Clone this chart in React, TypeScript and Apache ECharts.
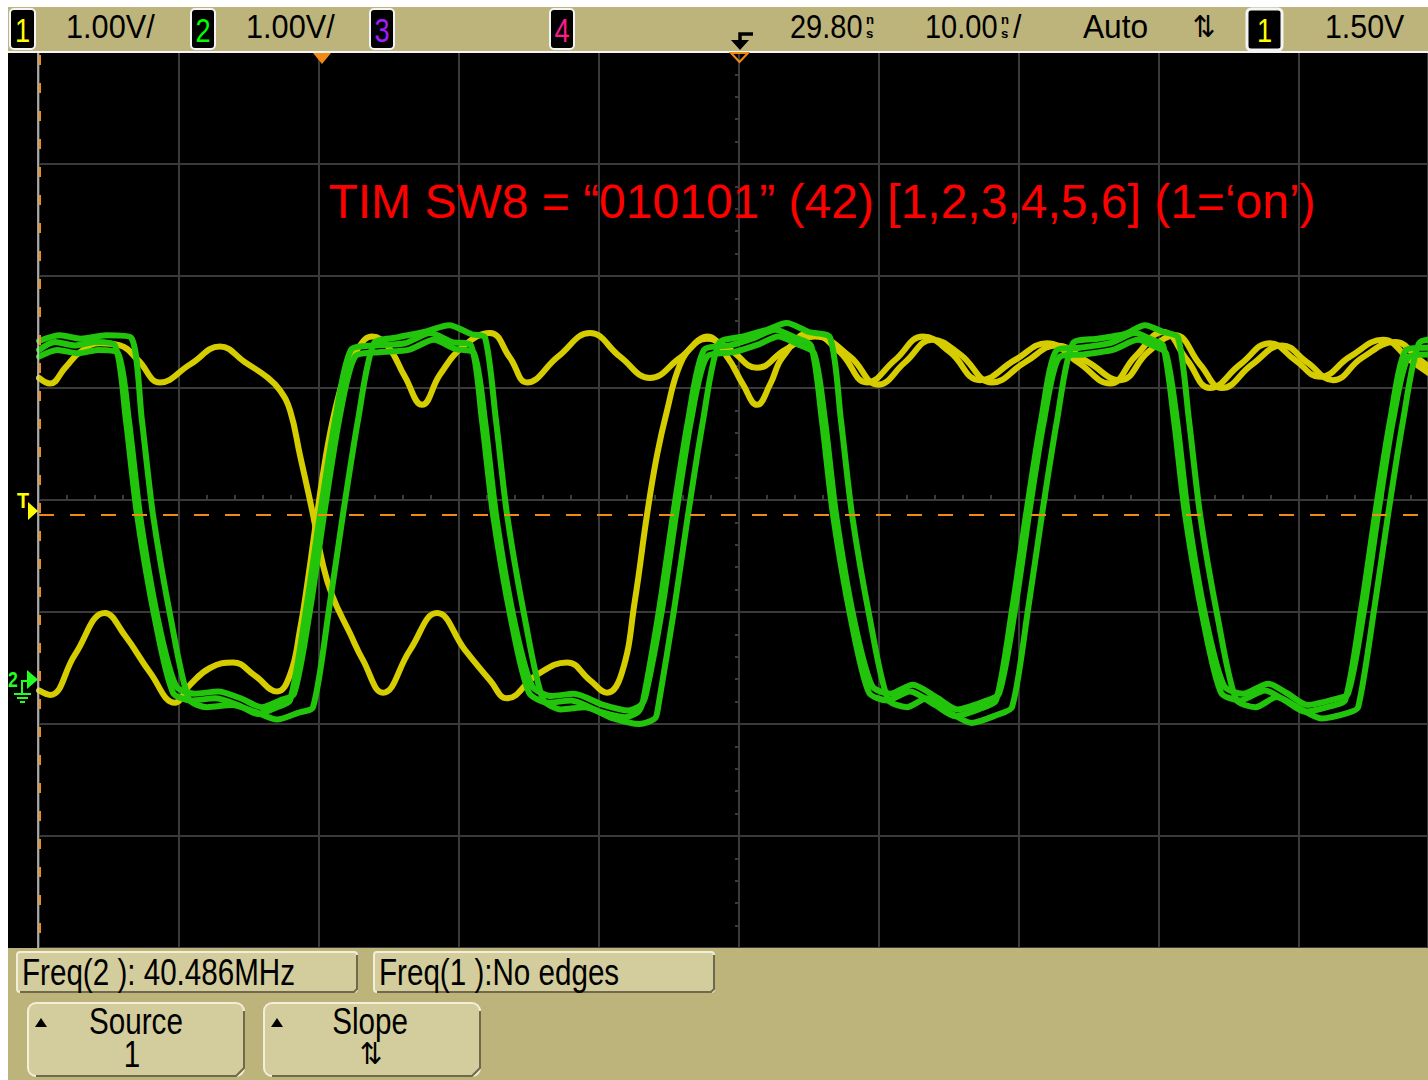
import { useEffect, useRef } from "react";
import * as echarts from "echarts";

// ---- screen axes (time in ns from the left edge of the screen, level in divisions; 1.00 V/div) ----
// 10 ns/div, 140 px/div; the visible part of the screen ends at 99.21 ns
const timeAxis = { min: 0, max: 99.21, step: 10 };
const levelAxis = { min: -4, max: 4, step: 1 };
const triggerLevelDiv = -0.134;

// ---- channel 1 (yellow) : two persistence traces ----
const ch1TraceA: [number, number][] = [
  [0, 1.09], [0.79, 1.04], [1.86, 1.18], [2.93, 1.32], [4.36, 1.4], [5.79, 1.38], [7.07, 1.25], [8.64, 1.05],
  [10.79, 1.21], [12.93, 1.37], [14.71, 1.23], [16.36, 1.09], [17.21, 0.98], [17.93, 0.8], [18.64, 0.4],
  [19.57, -0.13], [20.21, -0.54], [20.93, -0.85], [22.21, -1.19], [23.14, -1.43], [24.57, -1.72], [26.5, -1.34],
  [28.43, -1.01], [30.43, -1.34], [32.21, -1.61], [33.43, -1.77], [35.57, -1.56], [37.71, -1.45], [39.36, -1.61],
  [40.57, -1.72], [41.64, -1.54], [42.57, -0.89], [43.43, -0.13], [44.14, 0.4], [44.86, 0.8], [45.79, 1.21],
  [46.86, 1.4], [47.71, 1.46], [49.14, 1.28], [50.29, 1.03], [51.29, 0.85], [52.21, 1.03], [53.14, 1.28],
  [55.07, 1.49], [57.21, 1.32], [59.14, 1.05], [61.14, 1.25], [63.14, 1.46], [65.07, 1.32], [67.21, 1.07],
  [69.71, 1.25], [72.0, 1.4], [74.21, 1.23], [76.5, 1.04], [78.29, 1.28], [80.29, 1.5], [82.0, 1.25],
  [83.64, 1.0], [85.79, 1.21], [87.93, 1.4], [89.71, 1.25], [91.5, 1.1], [93.64, 1.28], [96.0, 1.43],
  [97.93, 1.25], [100, 1.07],
];
const ch1TraceB: [number, number][] = [
  [0, -1.7], [0.79, -1.74], [2.57, -1.38], [4.71, -1.01], [6.14, -1.21], [7.93, -1.54], [9.71, -1.81],
  [10.79, -1.65], [12.21, -1.5], [13.86, -1.45], [15.43, -1.57], [17.0, -1.71], [17.93, -1.56], [18.64, -1.16],
  [19.21, -0.71], [19.86, -0.13], [20.5, 0.4], [21.14, 0.8], [21.86, 1.12], [22.71, 1.34], [23.79, 1.46],
  [24.93, 1.37], [26.14, 1.1], [27.36, 0.85], [28.64, 1.12], [30.29, 1.37], [32.21, 1.49], [33.64, 1.27],
  [34.86, 1.05], [37.07, 1.28], [39.36, 1.49], [41.5, 1.28], [43.64, 1.09], [45.79, 1.27], [47.71, 1.44],
  [49.36, 1.34], [51.29, 1.18], [53.29, 1.34], [55.43, 1.46], [57.93, 1.28], [59.93, 1.03], [61.86, 1.23],
  [63.79, 1.43], [65.79, 1.3], [68.07, 1.05], [70.43, 1.23], [72.71, 1.38], [74.93, 1.23], [77.21, 1.07],
  [79.21, 1.32], [81.14, 1.47], [82.93, 1.21], [84.5, 1.0], [86.64, 1.21], [88.79, 1.38], [90.57, 1.23],
  [92.43, 1.07], [94.5, 1.27], [96.86, 1.41], [98.64, 1.25], [100, 1.12],
];

// ---- channel 2 (green) : three persistence traces ----
const ch2TraceA: [number, number][] = [
  [0, 1.34], [1.14, 1.41], [2.57, 1.38], [4.0, 1.41],
  [5.43, 1.38], [6.21, 0.71], [7.0, -0.13], [8.29, -1.07], [9.57, -1.72],
  [10.9, -1.79], [12.57, -1.77], [14.21, -1.83], [15.64, -1.91], [17.0, -1.85],
  [17.93, -1.79], [19.07, -0.98], [20.07, -0.13], [21.14, 0.71], [22.28, 1.34],
  [24.0, 1.38], [26.14, 1.4], [27.93, 1.49], [29.5, 1.41],
  [30.86, 1.38], [31.64, 0.71], [32.43, -0.13], [33.72, -1.07], [35.0, -1.72],
  [36.4, -1.81], [38.0, -1.79], [40.07, -1.89], [41.86, -1.94], [42.8, -1.89],
  [43.15, -1.79], [44.29, -0.98], [45.29, -0.13], [46.36, 0.71], [47.5, 1.34],
  [49.36, 1.38], [51.14, 1.45], [52.57, 1.52], [54.0, 1.45],
  [55.14, 1.38], [55.92, 0.71], [56.71, -0.13], [58.0, -1.07], [59.28, -1.72],
  [60.6, -1.79], [62.21, -1.71], [64.0, -1.83], [65.43, -1.93], [67.3, -1.86],
  [68.36, -1.79], [69.5, -0.98], [70.5, -0.13], [71.57, 0.71], [72.71, 1.34],
  [74.36, 1.36], [76.5, 1.4], [78.29, 1.49], [79.5, 1.43],
  [80.29, 1.38], [81.07, 0.71], [81.86, -0.13], [83.15, -1.07], [84.43, -1.72],
  [85.79, -1.79], [87.57, -1.7], [89.0, -1.79], [90.43, -1.89], [92.3, -1.84],
  [93.29, -1.79], [94.43, -0.98], [95.43, -0.13], [96.5, 0.71], [97.64, 1.34],
  [99.0, 1.36], [100, 1.36],
];
const ch2TraceB: [number, number][] = [
  [0, 1.28], [1.3, 1.34], [2.8, 1.31], [4.2, 1.34],
  [5.64, 1.31], [6.42, 0.71], [7.21, -0.13], [8.5, -1.07], [9.78, -1.66],
  [11.1, -1.73], [12.8, -1.71], [14.4, -1.77], [15.9, -1.85], [17.2, -1.79],
  [18.22, -1.73], [19.36, -0.98], [20.36, -0.13], [21.43, 0.71], [22.57, 1.28],
  [24.3, 1.32], [26.4, 1.34], [28.2, 1.43], [29.7, 1.35],
  [31.07, 1.31], [31.85, 0.71], [32.64, -0.13], [33.93, -1.07], [35.21, -1.66],
  [36.6, -1.75], [38.2, -1.73], [40.3, -1.83], [42.1, -1.88], [43.0, -1.83],
  [43.36, -1.73], [44.5, -0.98], [45.5, -0.13], [46.57, 0.71], [47.71, 1.28],
  [49.6, 1.32], [51.4, 1.39], [52.8, 1.46], [54.2, 1.39],
  [55.36, 1.31], [56.14, 0.71], [56.93, -0.13], [58.22, -1.07], [59.5, -1.66],
  [60.8, -1.73], [62.4, -1.65], [64.2, -1.77], [65.6, -1.87], [67.5, -1.8],
  [68.57, -1.73], [69.71, -0.98], [70.71, -0.13], [71.78, 0.71], [72.92, 1.28],
  [74.6, 1.3], [76.7, 1.34], [78.5, 1.43], [79.7, 1.37],
  [80.5, 1.31], [81.28, 0.71], [82.07, -0.13], [83.36, -1.07], [84.64, -1.66],
  [86.0, -1.73], [87.8, -1.64], [89.2, -1.73], [90.6, -1.83], [92.5, -1.78],
  [93.5, -1.73], [94.64, -0.98], [95.64, -0.13], [96.71, 0.71], [97.85, 1.28],
  [99.2, 1.3], [100, 1.3],
];
const ch2TraceC: [number, number][] = [
  [0, 1.42], [1.5, 1.47], [3.0, 1.44], [4.8, 1.47],
  [6.57, 1.45], [7.35, 0.71], [8.14, -0.13], [9.43, -1.07], [10.71, -1.78],
  [12.0, -1.85], [13.8, -1.83], [15.4, -1.89], [17.0, -1.96], [18.5, -1.9],
  [19.57, -1.85], [20.71, -0.98], [21.71, -0.13], [22.78, 0.71], [23.92, 1.4],
  [25.5, 1.45], [27.5, 1.5], [29.3, 1.56], [30.9, 1.48],
  [31.86, 1.45], [32.64, 0.71], [33.43, -0.13], [34.72, -1.07], [36.0, -1.78],
  [37.3, -1.87], [39.0, -1.85], [41.0, -1.95], [42.9, -2.0], [44.0, -1.95],
  [44.22, -1.85], [45.36, -0.98], [46.36, -0.13], [47.43, 0.71], [48.57, 1.4],
  [50.3, 1.46], [52.0, 1.52], [53.4, 1.58], [55.0, 1.5],
  [56.5, 1.45], [57.28, 0.71], [58.07, -0.13], [59.36, -1.07], [60.64, -1.78],
  [62.0, -1.85], [63.4, -1.77], [65.1, -1.9], [66.6, -1.99], [68.4, -1.92],
  [69.5, -1.85], [70.64, -0.98], [71.64, -0.13], [72.71, 0.71], [73.85, 1.4],
  [75.6, 1.44], [77.5, 1.48], [79.0, 1.56], [80.3, 1.5],
  [81.36, 1.45], [82.14, 0.71], [82.93, -0.13], [84.22, -1.07], [85.5, -1.78],
  [86.9, -1.85], [88.4, -1.76], [89.9, -1.85], [91.6, -1.95], [93.5, -1.9],
  [94.22, -1.85], [95.36, -0.98], [96.36, -0.13], [97.43, 0.71], [98.57, 1.4],
  [100, 1.44],
];

// ---- texts ----
const titleText = "TIM SW8 = \u201C010101\u201D (42) [1,2,3,4,5,6] (1=\u2018on\u2019)";
const channelScales = ["1.00V/", "1.00V/"];
const delayText = "29.80";
const timebaseText = "10.00";
const timeUnitTop = "n";
const timeUnitBottom = "s";
const triggerModeText = "Auto";
const triggerLevelText = "1.50V";
const measurementTexts = ["Freq(2 ): 40.486MHz", "Freq(1 ):No edges"];
const softkeyTitles = ["Source", "Slope"];
const softkeyValues = ["1", "\u21C5"];

// ---- colours ----
const KHAKI = "#bdb47b";
const BOX_FILL = "#d3cc9c";
const GRID = "#3a3a3a";
const YELLOW = "#d6cd00";
const GREEN = "#22c40c";
const ORANGE = "#f08a16";

const UI_FONT = '"Liberation Sans", Arial, sans-serif';

function uiText(x: number, y: number, text: string, size: number, color: string, align = "left", sx = 0.8, family = UI_FONT, weight = "normal", sy = 1) {
  return {
    type: "text",
    x,
    y,
    scaleX: sx,
    scaleY: sy,
    z: 30,
    style: {
      text,
      fill: color,
      font: `${weight} ${size}px ${family}`,
      textAlign: align,
      textVerticalAlign: "middle",
      align,
      verticalAlign: "middle",
    },
  };
}

function chanBox(x: number, y: number, w: number, h: number, digit: string, color: string, bw = 2) {
  return [
    { type: "rect", z: 25, shape: { x, y, width: w, height: h, r: 4 }, style: { fill: "#000", stroke: "#f4f4f4", lineWidth: bw } },
    uiText(x + w / 2, y + h / 2 + 1, digit, 34, color, "center", 0.8),
  ];
}

function panelBox(x: number, y: number, w: number, h: number, r: number) {
  return [
    { type: "rect", z: 20, shape: { x, y, width: w, height: h, r }, style: { fill: BOX_FILL, stroke: "#f2eed8", lineWidth: 2 } },
    {
      type: "polyline",
      z: 21,
      shape: { points: [[x + w, y + r], [x + w, y + h - r], [x + w - r, y + h], [x + r, y + h]] },
      style: { stroke: "#6f6a4c", lineWidth: 2, fill: null },
    },
  ];
}

function buildGraphics() {
  const els: any[] = [];
  // backgrounds
  els.push({ type: "rect", z: -10, shape: { x: 8, y: 7, width: 1420, height: 44 }, style: { fill: KHAKI } });
  els.push({ type: "rect", z: -10, shape: { x: 8, y: 53, width: 1420, height: 895 }, style: { fill: "#000" } });
  els.push({ type: "rect", z: 15, shape: { x: 8, y: 948, width: 1420, height: 132 }, style: { fill: KHAKI } });
  els.push({ type: "rect", z: 15, shape: { x: 8, y: 51, width: 1420, height: 2 }, style: { fill: "#f4f4f4" } });
  // left border and time reference marker
  els.push({ type: "line", z: 15, shape: { x1: 38, y1: 53, x2: 38, y2: 948 }, style: { stroke: "#cfcfcf", lineWidth: 1.5 } });
  els.push({ type: "line", z: 16, shape: { x1: 40, y1: 55, x2: 40, y2: 948 }, style: { stroke: ORANGE, lineWidth: 2, lineDash: [10, 18] } });

  // top bar
  els.push(...chanBox(10, 9, 25, 40, "1", "#ffff00"));
  els.push(uiText(66, 27, channelScales[0], 33, "#000", "left", 0.93));
  els.push(...chanBox(191, 9, 24, 40, "2", "#00ff00"));
  els.push(uiText(246, 27, channelScales[1], 33, "#000", "left", 0.93));
  els.push(...chanBox(370, 9, 24, 40, "3", "#a21cff"));
  els.push(...chanBox(550, 9, 24, 40, "4", "#ff1a8c"));
  // delay marker triangles
  els.push({ type: "polygon", z: 30, shape: { points: [[313, 53], [331, 53], [322, 64]] }, style: { fill: ORANGE } });
  els.push({ type: "polygon", z: 30, shape: { points: [[731, 53], [748, 53], [739.5, 62]] }, style: { fill: null, stroke: ORANGE, lineWidth: 2 } });
  // trigger delay icon
  els.push({ type: "polyline", z: 30, shape: { points: [[753, 34], [740, 34], [740, 43]] }, style: { stroke: "#000", lineWidth: 3.5, fill: null } });
  els.push({ type: "polygon", z: 30, shape: { points: [[731, 40], [749, 40], [740, 50]] }, style: { fill: "#000" } });
  els.push(uiText(790, 27, delayText, 29, "#000", "left", 1, UI_FONT, "normal", 1.12));
  els.push(uiText(866, 20, timeUnitTop, 12, "#000", "left", 1.1, UI_FONT, "bold"));
  els.push(uiText(866, 34.5, timeUnitBottom, 12, "#000", "left", 1.1, UI_FONT, "bold"));
  els.push(uiText(925, 27, timebaseText, 29, "#000", "left", 1, UI_FONT, "normal", 1.12));
  els.push(uiText(1001, 20, timeUnitTop, 12, "#000", "left", 1.1, UI_FONT, "bold"));
  els.push(uiText(1001, 34.5, timeUnitBottom, 12, "#000", "left", 1.1, UI_FONT, "bold"));
  els.push(uiText(1013, 27, "/", 33, "#000", "left", 0.92));
  els.push(uiText(1083, 27, triggerModeText, 33, "#000", "left", 0.96));
  els.push(uiText(1204, 27, "\u21C5", 30, "#000", "center", 0.9, '"DejaVu Sans", sans-serif'));
  els.push(...chanBox(1247, 9, 35, 41, "1", "#ffff00", 3));
  els.push(uiText(1325, 27, triggerLevelText, 33, "#000", "left", 0.92));

  // left screen markers
  els.push(uiText(17, 500, "T", 22, "#ffff00", "left", 0.9, UI_FONT, "bold"));
  els.push({ type: "polygon", z: 30, shape: { points: [[28, 502], [28, 520], [38, 511]] }, style: { fill: "#ffff00" } });
  els.push(uiText(8, 679, "2", 22, "#22ff22", "left", 0.8, UI_FONT, "bold"));
  els.push({ type: "polygon", z: 30, shape: { points: [[27, 670], [27, 689], [38, 679.5]] }, style: { fill: "#22ff22" } });
  els.push({ type: "polyline", z: 30, shape: { points: [[27, 681], [22, 681], [22, 693]] }, style: { stroke: "#22ff22", lineWidth: 2, fill: null } });
  els.push({ type: "line", z: 30, shape: { x1: 14, y1: 694, x2: 31, y2: 694 }, style: { stroke: "#22ff22", lineWidth: 2 } });
  els.push({ type: "line", z: 30, shape: { x1: 17, y1: 698, x2: 28, y2: 698 }, style: { stroke: "#22ff22", lineWidth: 2 } });
  els.push({ type: "line", z: 30, shape: { x1: 20, y1: 702, x2: 25, y2: 702 }, style: { stroke: "#22ff22", lineWidth: 2 } });

  // title
  els.push({
    type: "text",
    x: 822,
    y: 201,
    z: 30,
    style: {
      text: titleText,
      fill: "#ff0000",
      font: `48px ${UI_FONT}`,
      textAlign: "center",
      textVerticalAlign: "middle",
      align: "center",
      verticalAlign: "middle",
    },
  });

  // bottom panel
  els.push(...panelBox(17, 952, 340, 40, 3));
  els.push(uiText(22, 972, measurementTexts[0], 37, "#000"));
  els.push(...panelBox(374, 952, 340, 40, 3));
  els.push(uiText(379, 972, measurementTexts[1], 37, "#000"));
  els.push(...panelBox(28, 1003, 216, 73, 8));
  els.push(...panelBox(264, 1003, 216, 73, 8));
  els.push({ type: "polygon", z: 30, shape: { points: [[35, 1027], [47, 1027], [41, 1018]] }, style: { fill: "#000" } });
  els.push({ type: "polygon", z: 30, shape: { points: [[271, 1027], [283, 1027], [277, 1018]] }, style: { fill: "#000" } });
  els.push(uiText(136, 1021, softkeyTitles[0], 37, "#000", "center"));
  els.push(uiText(132, 1054, softkeyValues[0], 37, "#000", "center"));
  els.push(uiText(370, 1021, softkeyTitles[1], 37, "#000", "center"));
  els.push(uiText(371, 1054, softkeyValues[1], 30, "#000", "center", 0.9, '"DejaVu Sans", sans-serif'));
  return els;
}

function traceSeries(name: string, data: [number, number][], color: string, z: number, width: number, smooth: number, extra: any = {}) {
  return {
    name,
    type: "line",
    data,
    showSymbol: false,
    symbol: "none",
    smooth,
    z,
    silent: true,
    lineStyle: { color, width, cap: "round", join: "round" },
    ...extra,
  };
}

export default function App() {
  const ref = useRef<HTMLDivElement>(null);
  useEffect(() => {
    if (!ref.current) return;
    const chart = echarts.init(ref.current, undefined, { renderer: "svg" });
    const axisLineStyle = { color: GRID, width: 2 };
    chart.setOption({
      animation: false,
      backgroundColor: "#ffffff",
      grid: { left: 39, right: 0, top: 52, bottom: 132, containLabel: false },
      xAxis: {
        type: "value",
        min: timeAxis.min,
        max: timeAxis.max,
        interval: timeAxis.step,
        axisLine: { show: true, onZero: true, lineStyle: axisLineStyle },
        axisTick: { show: true, inside: true, length: 5, lineStyle: axisLineStyle },
        minorTick: { show: true, splitNumber: 5, length: 5, lineStyle: axisLineStyle },
        axisLabel: { show: false },
        splitLine: { show: true, lineStyle: axisLineStyle },
      },
      yAxis: {
        type: "value",
        min: levelAxis.min,
        max: levelAxis.max,
        interval: levelAxis.step,
        offset: -700,
        axisLine: { show: true, onZero: false, lineStyle: axisLineStyle },
        axisTick: { show: true, length: 4, lineStyle: axisLineStyle },
        minorTick: { show: true, splitNumber: 5, length: 4, lineStyle: axisLineStyle },
        axisLabel: { show: false },
        splitLine: { show: true, lineStyle: axisLineStyle },
      },
      graphic: { elements: buildGraphics() },
      series: [
        traceSeries("ch1 A", ch1TraceA, YELLOW, 3, 6, 0.45, {
          markLine: {
            silent: true,
            symbol: ["none", "none"],
            label: { show: false },
            lineStyle: { color: ORANGE, width: 2, type: [15, 16] },
            data: [{ yAxis: triggerLevelDiv }],
          },
        }),
        traceSeries("ch1 B", ch1TraceB, YELLOW, 3, 6, 0.45),
        traceSeries("ch2 A", ch2TraceA, GREEN, 4, 6, 0.25),
        traceSeries("ch2 B", ch2TraceB, GREEN, 4, 6, 0.25),
        traceSeries("ch2 C", ch2TraceC, GREEN, 4, 6, 0.25),
      ],
    });
    return () => chart.dispose();
  }, []);
  return (
    <div
      ref={ref}
      style={{ position: "fixed", left: 0, top: 0, width: 1428, height: 1080, background: "#fff" }}
    />
  );
}
